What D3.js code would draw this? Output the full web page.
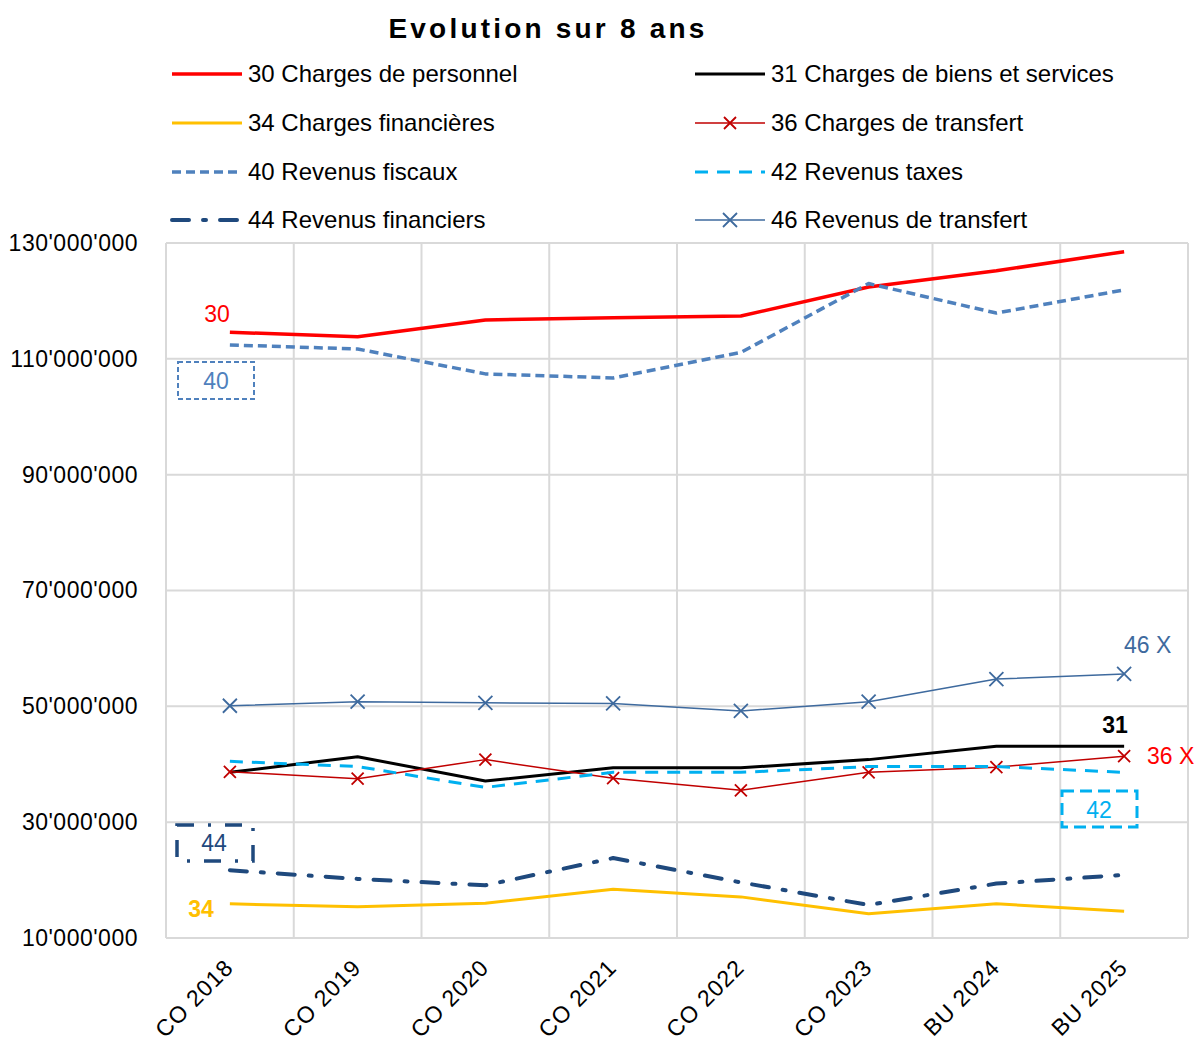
<!DOCTYPE html>
<html>
<head>
<meta charset="utf-8">
<script src="https://cdn.jsdelivr.net/npm/d3@7/dist/d3.min.js"></script>
<style>
  body { margin: 0; background: #fff; }
  svg { font-family: "Liberation Sans", Arial, sans-serif; }
</style>
</head>
<body>
<svg id="chart" width="1199" height="1044"></svg>
<script>
const categories = ["CO 2018", "CO 2019", "CO 2020", "CO 2021", "CO 2022", "CO 2023", "BU 2024", "BU 2025"];
const yTicks = [10e6, 30e6, 50e6, 70e6, 90e6, 110e6, 130e6];

// values in millions
const personnel = [114.6, 113.8, 116.7, 117.1, 117.4, 122.4, 125.2, 128.5];
const biensServices = [38.6, 41.3, 37.1, 39.4, 39.4, 40.8, 43.1, 43.1];
const financieres = [15.9, 15.4, 16.0, 18.4, 17.1, 14.2, 15.9, 14.6];
const transfertCh = [38.7, 37.5, 40.8, 37.6, 35.5, 38.6, 39.5, 41.4];
const fiscaux = [112.4, 111.7, 107.4, 106.7, 111.1, 123.0, 117.9, 121.9];
const taxes = [40.5, 39.6, 36.0, 38.6, 38.6, 39.6, 39.6, 38.6];
const revFinanciers = [21.7, 20.2, 19.1, 23.8, 19.6, 15.7, 19.4, 20.9];
const transfertRev = [50.1, 50.8, 50.6, 50.5, 49.2, 50.8, 54.7, 55.6];

const dashDot = "17,14,3,14";
const series = [
  { name: "30 Charges de personnel", values: personnel, color: "#ff0000", width: 3.5, dash: null },
  { name: "31 Charges de biens et services", values: biensServices, color: "#000000", width: 3, dash: null },
  { name: "34 Charges financières", values: financieres, color: "#ffc000", width: 3, dash: null },
  { name: "36 Charges de transfert", values: transfertCh, color: "#c00000", width: 1.5, dash: null, marker: 6 },
  { name: "40 Revenus fiscaux", values: fiscaux, color: "#4f81bd", width: 3.5, dash: "9,5" },
  { name: "42 Revenus taxes", values: taxes, color: "#00b0f0", width: 3, dash: "13,9" },
  { name: "44 Revenus financiers", values: revFinanciers, color: "#1f497d", width: 4, dash: dashDot },
  { name: "46 Revenus de transfert", values: transfertRev, color: "#3e6a9e", width: 1.5, dash: null, marker: 7 }
];

const svg = d3.select("#chart");
const margin = { left: 166, right: 11, top: 243, bottom: 106 };
const W = 1199, H = 1044;

const x = d3.scaleBand().domain(categories).range([margin.left, W - margin.right]);
const y = d3.scaleLinear().domain([10e6, 130e6]).range([H - margin.bottom, margin.top]);
const cx = (c) => x(c) + x.bandwidth() / 2;

// gridlines
const grid = svg.append("g").attr("stroke", "#d9d9d9").attr("stroke-width", 2);
grid.selectAll(".h").data(yTicks).join("line")
  .attr("x1", margin.left).attr("x2", W - margin.right)
  .attr("y1", (d) => y(d)).attr("y2", (d) => y(d));
const vx = categories.map((c) => x(c)).concat([W - margin.right]);
grid.selectAll(".v").data(vx).join("line")
  .attr("x1", (d) => d).attr("x2", (d) => d)
  .attr("y1", margin.top).attr("y2", H - margin.bottom);

// y axis
const fmt = (v) => d3.format(",")(v).replace(/,/g, "'");
const yAxis = svg.append("g").attr("transform", `translate(${margin.left},0)`)
  .call(d3.axisLeft(y).tickValues(yTicks).tickFormat(fmt).tickSize(0).tickPadding(28));
yAxis.select(".domain").remove();
yAxis.selectAll("text").attr("font-size", 23).attr("letter-spacing", 0.5).attr("fill", "#000")
  .attr("font-family", "Liberation Sans, Arial, sans-serif");

// x axis
const xAxis = svg.append("g").attr("transform", `translate(0,${H - margin.bottom})`)
  .call(d3.axisBottom(x).tickSize(0).tickPadding(0));
xAxis.select(".domain").remove();
xAxis.selectAll("text")
  .attr("font-size", 23).attr("letter-spacing", 1).attr("fill", "#000")
  .attr("font-family", "Liberation Sans, Arial, sans-serif")
  .attr("text-anchor", "end")
  .attr("dy", 0)
  .attr("transform", "translate(5,31) rotate(-45)");

// lines
const line = d3.line().x((d, i) => cx(categories[i])).y((d) => y(d * 1e6));
const lines = svg.append("g");
series.forEach((s) => {
  lines.append("path")
    .datum(s.values)
    .attr("fill", "none")
    .attr("stroke", s.color)
    .attr("stroke-width", s.width)
    .attr("stroke-dasharray", s.dash)
    .attr("stroke-linecap", s.dash === dashDot ? "round" : "butt")
    .attr("stroke-linejoin", "round")
    .attr("d", line);
  if (s.marker) {
    const m = s.marker;
    lines.append("g").selectAll("path").data(s.values).join("path")
      .attr("fill", "none").attr("stroke", s.color).attr("stroke-width", 1.8)
      .attr("transform", (d, i) => `translate(${cx(categories[i])},${y(d * 1e6)})`)
      .attr("d", `M${-m},${-m}L${m},${m}M${-m},${m}L${m},${-m}`);
  }
});

// title
svg.append("text").attr("x", 548).attr("y", 38).attr("text-anchor", "middle")
  .attr("font-size", 28).attr("font-weight", "bold").attr("letter-spacing", 3.2)
  .text("Evolution sur 8 ans");

// legend
const legRows = [74, 123, 172, 220];
const legend = svg.append("g");
series.forEach((s, i) => {
  const col = i % 2, row = Math.floor(i / 2);
  const lx = col === 0 ? 172 : 695;
  const ly = legRows[row];
  const g = legend.append("g").attr("transform", `translate(${lx},${ly})`);
  g.append("line").attr("x1", 0).attr("x2", 70).attr("y1", 0).attr("y2", 0)
    .attr("stroke", s.color).attr("stroke-width", s.width)
    .attr("stroke-dasharray", s.dash)
    .attr("stroke-linecap", s.dash === dashDot ? "round" : "butt");
  if (s.marker) {
    const m = s.marker;
    g.append("path").attr("fill", "none").attr("stroke", s.color).attr("stroke-width", 1.8)
      .attr("transform", "translate(35,0)")
      .attr("d", `M${-m},${-m}L${m},${m}M${-m},${m}L${m},${-m}`);
  }
  g.append("text").attr("x", 76).attr("y", 8).attr("font-size", 24).attr("fill", "#000")
    .text(s.name);
});

// data labels
const labels = svg.append("g");
const lab = (tx, ty, t, color, bold) => labels.append("text")
  .attr("x", tx).attr("y", ty).attr("text-anchor", "middle")
  .attr("font-size", 23).attr("font-weight", bold ? "bold" : null)
  .attr("fill", color).text(t);
lab(217, 322, "30", "#ff0000");
labels.append("rect").attr("x", 178).attr("y", 362).attr("width", 76).attr("height", 37)
  .attr("fill", "none").attr("stroke", "#4f81bd").attr("stroke-width", 2).attr("stroke-dasharray", "5,3");
lab(216, 389, "40", "#4f81bd");
lab(1124, 653, "46 X", "#3e6a9e").attr("text-anchor", "start");
lab(1115, 733, "31", "#000", true);
lab(1147, 764, "36 X", "#ff0000").attr("text-anchor", "start");
labels.append("rect").attr("x", 1062).attr("y", 791).attr("width", 75).attr("height", 36)
  .attr("fill", "none").attr("stroke", "#00b0f0").attr("stroke-width", 3).attr("stroke-dasharray", "12,6");
lab(1099, 818, "42", "#00b0f0");
labels.append("rect").attr("x", 177).attr("y", 825).attr("width", 76).attr("height", 36)
  .attr("fill", "none").attr("stroke", "#1f497d").attr("stroke-width", 3.5).attr("stroke-dasharray", dashDot);
lab(214, 851, "44", "#1f497d");
lab(201, 917, "34", "#ffc000", true);
</script>
</body>
</html>
